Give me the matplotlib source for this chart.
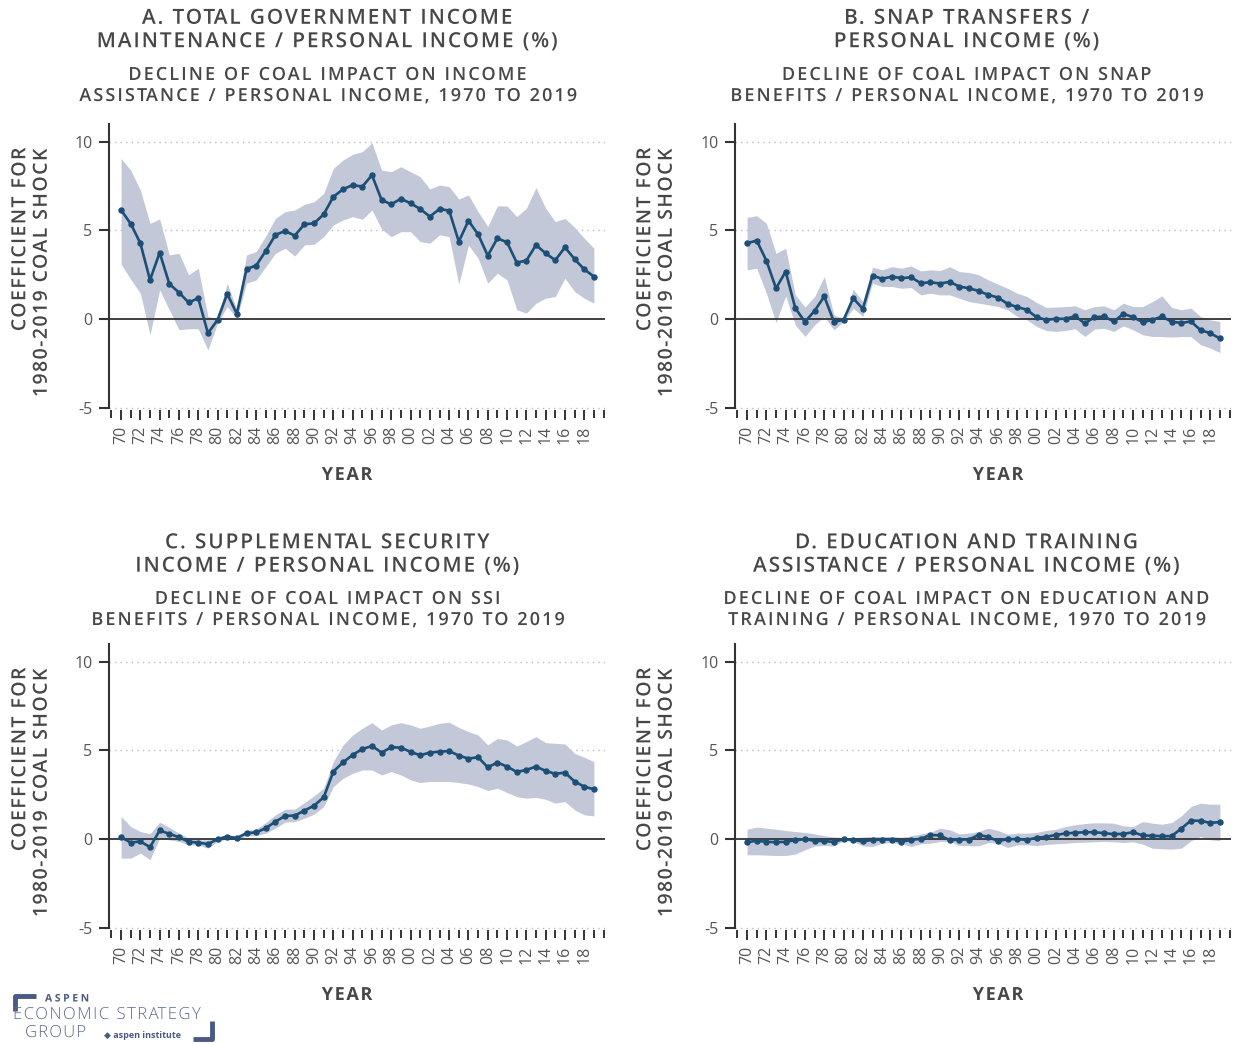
import numpy as np
import matplotlib
matplotlib.use('Agg')
import matplotlib.pyplot as plt
from matplotlib.ticker import MultipleLocator, FixedLocator
from matplotlib.patheffects import AbstractPathEffect
from matplotlib.path import Path

# ── DONNÉES ──────────────────────────────────────────────────────────────────
years = np.arange(1970, 2020)

a_coef = [6.15, 5.38, 4.28, 2.21, 3.75, 1.99, 1.50, 0.94, 1.18, -0.79,
          -0.04, 1.43, 0.30, 2.83, 3.02, 3.85, 4.75, 4.97, 4.71, 5.35,
          5.40, 5.91, 6.90, 7.32, 7.56, 7.47, 8.12, 6.72, 6.47, 6.79,
          6.53, 6.21, 5.78, 6.21, 6.12, 4.37, 5.55, 4.78, 3.58, 4.56,
          4.33, 3.19, 3.30, 4.18, 3.71, 3.32, 4.05, 3.38, 2.81, 2.40]
a_hi = [9.06, 8.40, 7.28, 5.40, 5.65, 3.62, 3.71, 2.50, 2.87, 0.15,
        0.04, 2.03, 0.53, 3.62, 3.81, 4.69, 5.68, 6.06, 6.15, 6.47,
        6.62, 7.09, 8.50, 8.97, 9.29, 9.44, 9.94, 8.40, 8.31, 8.59,
        8.31, 8.03, 7.34, 7.56, 7.47, 6.77, 7.00, 6.06, 5.22, 6.38,
        6.38, 5.78, 6.25, 7.41, 6.25, 5.50, 5.68, 5.18, 4.56, 4.00]
a_lo = [3.10, 2.25, 1.46, -0.88, 1.65, 0.53, -0.60, -0.54, -0.54, -1.73,
        -0.23, 0.71, 0.06, 2.03, 2.21, 2.96, 3.71, 4.00, 3.56, 4.18,
        4.22, 4.65, 5.31, 5.59, 5.78, 5.63, 6.15, 5.08, 4.65, 4.93,
        4.93, 4.37, 4.28, 4.75, 4.65, 1.97, 4.18, 3.43, 2.03, 2.59,
        2.21, 0.53, 0.34, 0.90, 1.18, 1.28, 2.31, 1.56, 1.18, 0.90]

b_coef = [4.28, 4.43, 3.30, 1.74, 2.68, 0.62, -0.15, 0.47, 1.28, -0.15,
          -0.04, 1.18, 0.58, 2.46, 2.27, 2.40, 2.31, 2.36, 2.03, 2.08,
          2.01, 2.10, 1.84, 1.74, 1.59, 1.37, 1.22, 0.86, 0.68, 0.53,
          0.11, -0.04, 0.02, 0.02, 0.17, -0.24, 0.11, 0.15, -0.13, 0.30,
          0.11, -0.17, -0.04, 0.15, -0.15, -0.21, -0.13, -0.62, -0.79, -1.09]
b_hi = [5.74, 5.83, 5.40, 3.71, 4.00, 1.37, 0.68, 1.28, 2.40, 0.24,
        0.02, 1.69, 0.99, 2.93, 2.78, 2.96, 2.87, 3.00, 2.72, 2.78,
        2.74, 2.96, 2.68, 2.63, 2.50, 2.21, 1.97, 1.74, 1.46, 1.28,
        0.94, 0.66, 0.68, 0.71, 0.75, 0.53, 0.71, 0.75, 0.53, 0.90,
        0.71, 0.71, 0.99, 1.31, 0.66, 0.53, 0.62, 0.15, -0.04, -0.13]
b_lo = [2.78, 2.87, 1.46, -0.19, 1.31, -0.32, -0.98, -0.32, 0.15, -0.60,
        -0.13, 0.62, 0.15, 2.03, 1.84, 1.84, 1.74, 1.78, 1.37, 1.46,
        1.37, 1.37, 1.18, 0.99, 0.90, 0.81, 0.71, 0.53, 0.15, -0.04,
        -0.41, -0.64, -0.69, -0.64, -0.54, -0.98, -0.56, -0.51, -0.69, -0.38,
        -0.60, -0.88, -0.98, -0.98, -1.01, -0.98, -0.98, -1.44, -1.63, -1.88]

c_coef = [0.11, -0.19, -0.13, -0.45, 0.49, 0.30, 0.11, -0.15, -0.19, -0.28,
          0.00, 0.15, 0.06, 0.34, 0.38, 0.62, 0.99, 1.31, 1.33, 1.61,
          1.89, 2.36, 3.81, 4.33, 4.75, 5.08, 5.25, 4.88, 5.18, 5.16,
          4.92, 4.73, 4.88, 4.93, 4.97, 4.71, 4.54, 4.62, 4.05, 4.32,
          4.09, 3.79, 3.90, 4.09, 3.85, 3.68, 3.75, 3.25, 2.96, 2.81]
c_hi = [1.28, 0.71, 0.43, 0.30, 0.96, 0.66, 0.34, 0.06, -0.04, -0.04,
        0.09, 0.24, 0.15, 0.49, 0.56, 0.94, 1.37, 1.69, 1.69, 2.06,
        2.44, 2.87, 4.37, 5.31, 5.87, 6.25, 6.57, 6.15, 6.44, 6.57,
        6.44, 6.25, 6.38, 6.53, 6.59, 6.30, 6.06, 5.87, 5.31, 5.68,
        5.59, 5.25, 5.50, 5.78, 5.44, 5.40, 5.37, 4.84, 4.62, 4.37]
c_lo = [-1.07, -1.07, -0.79, -1.16, 0.06, -0.04, -0.13, -0.32, -0.32, -0.51,
        -0.13, 0.02, -0.04, 0.19, 0.19, 0.34, 0.62, 0.96, 0.99, 1.18,
        1.41, 1.84, 2.96, 3.43, 3.71, 3.90, 3.90, 3.62, 3.81, 3.62,
        3.34, 3.19, 3.25, 3.25, 3.25, 3.19, 3.11, 2.96, 2.74, 2.87,
        2.63, 2.40, 2.31, 2.35, 2.25, 2.03, 2.12, 1.65, 1.37, 1.31]

d_coef = [-0.17, -0.09, -0.15, -0.17, -0.15, -0.06, 0.00, -0.09, -0.11, -0.15,
          0.00, -0.04, -0.13, -0.04, -0.02, -0.02, -0.15, -0.04, 0.02, 0.24,
          0.21, -0.06, -0.02, -0.02, 0.24, 0.13, -0.11, 0.00, 0.00, -0.04,
          0.08, 0.13, 0.24, 0.32, 0.36, 0.39, 0.39, 0.34, 0.28, 0.30,
          0.39, 0.21, 0.19, 0.17, 0.17, 0.60, 1.05, 1.03, 0.92, 0.96]
d_hi = [0.56, 0.68, 0.62, 0.56, 0.49, 0.43, 0.38, 0.30, 0.19, 0.13,
        0.09, 0.08, 0.13, 0.15, 0.15, 0.15, 0.11, 0.19, 0.30, 0.39,
        0.62, 0.53, 0.30, 0.34, 0.43, 0.62, 0.49, 0.28, 0.34, 0.34,
        0.38, 0.49, 0.56, 0.71, 0.81, 0.88, 0.92, 0.92, 0.90, 0.75,
        0.71, 0.99, 0.90, 0.84, 0.94, 1.31, 1.84, 2.03, 1.97, 1.97]
d_lo = [-0.88, -0.88, -0.90, -0.92, -0.92, -0.84, -0.60, -0.38, -0.36, -0.38,
        -0.09, -0.13, -0.38, -0.41, -0.23, -0.19, -0.26, -0.41, -0.26, -0.23,
        -0.13, -0.13, -0.36, -0.36, -0.38, -0.19, -0.23, -0.47, -0.32, -0.32,
        -0.36, -0.30, -0.26, -0.23, -0.19, -0.17, -0.15, -0.13, -0.15, -0.19,
        -0.15, -0.28, -0.51, -0.54, -0.56, -0.51, -0.09, 0.15, -0.04, -0.08]

titles = ["A. TOTAL GOVERNMENT INCOME\nMAINTENANCE / PERSONAL INCOME (%)",
          "B. SNAP TRANSFERS /\nPERSONAL INCOME (%)",
          "C. SUPPLEMENTAL SECURITY\nINCOME / PERSONAL INCOME (%)",
          "D. EDUCATION AND TRAINING\nASSISTANCE / PERSONAL INCOME (%)"]
subtitles = ["DECLINE OF COAL IMPACT ON INCOME\nASSISTANCE / PERSONAL INCOME, 1970 TO 2019",
             "DECLINE OF COAL IMPACT ON SNAP\nBENEFITS / PERSONAL INCOME, 1970 TO 2019",
             "DECLINE OF COAL IMPACT ON SSI\nBENEFITS / PERSONAL INCOME, 1970 TO 2019",
             "DECLINE OF COAL IMPACT ON EDUCATION AND\nTRAINING / PERSONAL INCOME, 1970 TO 2019"]
ylabel = "COEFFICIENT FOR\n1980-2019 COAL SHOCK"
xlabel = "YEAR"
yticks = [-5, 0, 5, 10]

# ── STYLE ────────────────────────────────────────────────────────────────────
W, H = 1233, 1044
LINE_C = '#1d4e76'
BAND_C = '#c2c8d7'
TXT_C = '#474747'
AX_C = '#333333'
plt.rcParams['font.family'] = ['Open Sans', 'DejaVu Sans']


class Tracking(AbstractPathEffect):
    """Espacement des lettres : décale chaque glyphe le long de sa ligne."""

    def __init__(self, t, anchor='center'):
        super().__init__()
        self.t = t * 100.0          # 1 em = 100 unités dans le chemin du texte
        self.anchor = anchor

    def draw_path(self, renderer, gc, tpath, affine, rgbFace=None):
        v = np.array(tpath.vertices, dtype=float)
        c = tpath.codes
        if c is None or len(v) == 0:
            renderer.draw_path(gc, tpath, affine, rgbFace)
            return
        starts = list(np.flatnonzero(c == Path.MOVETO)) + [len(v)]
        segs = []
        for a, b in zip(starts[:-1], starts[1:]):
            xs = v[a:b][c[a:b] != Path.CLOSEPOLY, 0]
            if len(xs):
                segs.append((xs.min(), xs.max(), a, b))
        segs.sort()
        groups = []
        for lo, hi, a, b in segs:
            if groups and lo < groups[-1][1] - 0.5:
                groups[-1][1] = max(groups[-1][1], hi)
                groups[-1][2].append((a, b))
            else:
                groups.append([lo, hi, [(a, b)]])
        idx, k, prev = [], 0, None
        for lo, hi, _ in groups:
            if prev is not None:
                k += 2 if lo - prev > 27 else 1   # espace entre les mots
            idx.append(k)
            prev = hi
        total = self.t * k
        off = {'left': 0.0, 'center': total / 2, 'right': total}[self.anchor]
        for (lo, hi, parts), i in zip(groups, idx):
            for a, b in parts:
                v[a:b, 0] += self.t * i - off
        renderer.draw_path(gc, Path(v, c), affine, rgbFace)


fig = plt.figure(figsize=(W / 100, H / 100), dpi=100)


def px_rect(l, r, top, bottom):
    return [l / W, 1 - bottom / H, (r - l) / W, (bottom - top) / H]


# (gauche, droite, haut, bas) en pixels + positions des textes
panels = [
    dict(rect=px_rect(109, 605, 124, 410), data=(a_coef, a_hi, a_lo),
         tx=328, ty=(30, 85.5), yl=(31, 147), yr=(347, 475)),
    dict(rect=px_rect(735, 1231, 124, 410), data=(b_coef, b_hi, b_lo),
         tx=967, ty=(30, 85.5), yl=(656, 147), yr=(998, 475)),
    dict(rect=px_rect(109, 605, 644, 930), data=(c_coef, c_hi, c_lo),
         tx=328, ty=(554.5, 609.5), yl=(31, 667), yr=(347, 995)),
    dict(rect=px_rect(735, 1231, 644, 930), data=(d_coef, d_hi, d_lo),
         tx=967, ty=(554.5, 609.5), yl=(656, 667), yr=(998, 995)),
]

for i, p in enumerate(panels):
    coef, hi, lo = p['data']
    ax = fig.add_axes(p['rect'])
    ax.fill_between(years, lo, hi, color=BAND_C, lw=0, zorder=1)
    ax.plot(years, coef, color=LINE_C, lw=1.9, marker='o', ms=3.6, zorder=3)

    ax.set_xlim(1968.75, 2020.15)
    ax.set_ylim(-5.12, 11)
    for v in (-5, 5, 10):
        ax.axhline(v, color='#bbbbbb', lw=1.0, ls=(0, (1, 3)), zorder=0)
    ax.axhline(0, color=AX_C, lw=1.3, zorder=2)

    for s in ('top', 'right', 'bottom'):
        ax.spines[s].set_visible(False)
    ax.spines['left'].set_bounds(-5, 11)
    ax.spines['left'].set_color(AX_C)
    ax.spines['left'].set_linewidth(1.5)

    ax.yaxis.set_major_locator(FixedLocator(yticks))
    ax.set_yticklabels([str(v) for v in yticks])
    ax.tick_params(axis='y', length=7, width=1.5, color=AX_C, pad=5,
                   labelsize=11.5, labelcolor='#555555')

    ax.xaxis.set_minor_locator(MultipleLocator(1))
    ax.set_xticks(years[::2])
    ax.set_xticklabels([f"{y % 100:02d}" for y in years[::2]], rotation=90)
    ax.tick_params(axis='x', which='major', length=7.5, width=1.4, color=AX_C,
                   pad=4, labelsize=11.5, labelcolor='#555555')
    ax.tick_params(axis='x', which='minor', length=5.5, width=1.4, color=AX_C)

    t1, t2 = p['ty']
    fig.text(p['tx'] / W, 1 - t1 / H, titles[i], ha='center', va='center',
             fontsize=15, fontweight='semibold', color=TXT_C, linespacing=1.15,
             path_effects=[Tracking(0.09)])
    fig.text(p['tx'] / W, 1 - t2 / H, subtitles[i], ha='center', va='center',
             fontsize=13, fontweight='semibold', color=TXT_C, linespacing=1.22,
             path_effects=[Tracking(0.115)])
    fig.text(p['yl'][0] / W, 1 - p['yl'][1] / H, ylabel, rotation=90,
             ha='center', va='top', multialignment='right', fontsize=14,
             fontweight='semibold', color=TXT_C, linespacing=1.1,
             path_effects=[Tracking(0.075, anchor='right')])
    fig.text(p['yr'][0] / W, 1 - p['yr'][1] / H, xlabel, ha='center',
             va='center', fontsize=13, fontweight='bold', color=TXT_C,
             path_effects=[Tracking(0.09)])

# ── LOGO ─────────────────────────────────────────────────────────────────────
LOGO_C = '#4b5a82'
fig.text(45 / W, 1 - 999 / H, "ASPEN", fontsize=7.5, fontweight='bold',
         color=LOGO_C, va='center', ha='left',
         path_effects=[Tracking(0.25, anchor='left')])
fig.text(13 / W, 1 - 1015 / H, "ECONOMIC STRATEGY", fontsize=12,
         fontweight='light', color='#5d6b8c', va='center', ha='left',
         path_effects=[Tracking(0.09, anchor='left')])
fig.text(25 / W, 1 - 1033 / H, "GROUP", fontsize=12, fontweight='light',
         color='#5d6b8c', va='center', ha='left',
         path_effects=[Tracking(0.07, anchor='left')])
fig.text(104 / W, 1 - 1036 / H, "\u25c6 aspen institute", fontsize=6.5,
         fontweight='bold', color=LOGO_C, va='center', ha='left')
fig.add_artist(plt.Line2D([15 / W, 15 / W, 36 / W],
                          [1 - 1011 / H, 1 - 996 / H, 1 - 996 / H],
                          color=LOGO_C, lw=3.5, solid_capstyle='butt'))
fig.add_artist(plt.Line2D([193 / W, 212 / W, 212 / W],
                          [1 - 1039 / H, 1 - 1039 / H, 1 - 1021 / H],
                          color=LOGO_C, lw=3.5, solid_capstyle='butt'))

plt.savefig('out.png', dpi=100)
